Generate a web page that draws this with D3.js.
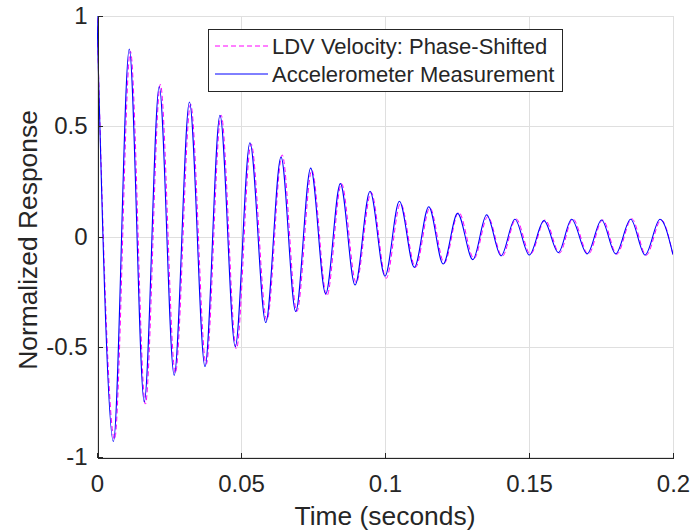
<!DOCTYPE html>
<html>
<head>
<meta charset="utf-8">
<script src="https://cdn.jsdelivr.net/npm/d3@7"></script>
<style>
  body { margin: 0; background: #fff; }
  text { font-family: "Liberation Sans", Arial, Helvetica, sans-serif; fill: #262626; }
</style>
</head>
<body>
<svg id="chart"></svg>
<script>
// peaks and troughs (time in s, normalized response)
const accelTime = [0, 0.0057, 0.0112, 0.0164, 0.0216, 0.0268, 0.0321, 0.0375, 0.0427, 0.0480,
  0.0531, 0.0586, 0.0639, 0.0690, 0.0742, 0.0794, 0.0845, 0.0896, 0.0948, 0.1000,
  0.1050, 0.1102, 0.1152, 0.1202, 0.1252, 0.1305, 0.1353, 0.1403, 0.1451, 0.1501,
  0.1552, 0.1602, 0.1648, 0.1702, 0.1752, 0.1801, 0.1853, 0.1903, 0.1955, 0.2000];
const accelValue = [1.00, -0.93, 0.85, -0.75, 0.68, -0.63, 0.61, -0.59, 0.55, -0.50,
  0.425, -0.39, 0.36, -0.34, 0.31, -0.26, 0.24, -0.22, 0.205, -0.18,
  0.16, -0.14, 0.135, -0.125, 0.105, -0.105, 0.098, -0.088, 0.078, -0.084,
  0.072, -0.073, 0.078, -0.079, 0.075, -0.079, 0.078, -0.084, 0.078, -0.082];

const ldvTime = [0, 0.0061, 0.0116, 0.0168, 0.0220, 0.0272, 0.0325, 0.0379, 0.0431, 0.0484,
  0.0535, 0.0590, 0.0643, 0.0694, 0.0746, 0.0798, 0.0849, 0.0900, 0.0952, 0.1004,
  0.1054, 0.1106, 0.1156, 0.1206, 0.1256, 0.1309, 0.1357, 0.1407, 0.1455, 0.1505,
  0.1556, 0.1606, 0.1652, 0.1706, 0.1756, 0.1805, 0.1857, 0.1907, 0.1959, 0.2000];
const ldvValue = [0.99, -0.92, 0.84, -0.76, 0.69, -0.62, 0.60, -0.58, 0.55, -0.51,
  0.42, -0.38, 0.37, -0.34, 0.30, -0.27, 0.24, -0.21, 0.20, -0.19,
  0.15, -0.14, 0.13, -0.12, 0.11, -0.10, 0.09, -0.09, 0.08, -0.08,
  0.075, -0.075, 0.08, -0.08, 0.075, -0.08, 0.08, -0.085, 0.075, -0.085];

const xTicks = [0, 0.05, 0.1, 0.15, 0.2];
const xTickLabels = ["0", "0.05", "0.1", "0.15", "0.2"];
const yTicks = [-1, -0.5, 0, 0.5, 1];
const yTickLabels = ["-1", "-0.5", "0", "0.5", "1"];
const seriesNames = ["LDV Velocity: Phase-Shifted", "Accelerometer Measurement"];

const W = 694, H = 531;
const margin = { top: 16, right: 21, bottom: 74, left: 97 };
const width = W - margin.left - margin.right;
const height = H - margin.top - margin.bottom;

const svg = d3.select("#chart").attr("width", W).attr("height", H);
const g = svg.append("g").attr("transform", "translate(" + margin.left + "," + margin.top + ")");

const x = d3.scaleLinear().domain([0, 0.2]).range([0, width]);
const y = d3.scaleLinear().domain([-1, 1]).range([height, 0]);

// grid
g.append("g").selectAll("line").data(xTicks).enter().append("line")
  .attr("x1", d => Math.round(x(d)) + 0.5).attr("x2", d => Math.round(x(d)) + 0.5)
  .attr("y1", 0).attr("y2", height)
  .attr("stroke", "#dfdfdf").attr("stroke-width", 1);
g.append("g").selectAll("line").data(yTicks).enter().append("line")
  .attr("y1", d => Math.round(y(d)) + 0.5).attr("y2", d => Math.round(y(d)) + 0.5)
  .attr("x1", 0).attr("x2", width)
  .attr("stroke", "#dfdfdf").attr("stroke-width", 1);

// lines
svg.append("defs").append("clipPath").attr("id", "clip")
  .append("rect").attr("x", 0).attr("y", -2).attr("width", width).attr("height", height + 4);

const line = d3.line().curve(d3.curveMonotoneX);
const ldvPts = ldvTime.map((t, i) => [x(t), y(ldvValue[i])]);
const accPts = accelTime.map((t, i) => [x(t), y(accelValue[i])]);

const plot = g.append("g").attr("clip-path", "url(#clip)");
plot.append("path").attr("d", line(ldvPts))
  .attr("fill", "none").attr("stroke", "#ff00ff").attr("stroke-width", 1)
  .attr("stroke-dasharray", "5,3");
plot.append("path").attr("d", line(accPts))
  .attr("fill", "none").attr("stroke", "#0000ff").attr("stroke-width", 1.1);

// axes
const xAxis = d3.axisBottom(x).tickValues(xTicks)
  .tickFormat((d, i) => xTickLabels[i]).tickSizeInner(-5).tickSizeOuter(0).tickPadding(17);
const yAxis = d3.axisLeft(y).tickValues(yTicks)
  .tickFormat((d, i) => yTickLabels[i]).tickSizeInner(-5).tickSizeOuter(0).tickPadding(10);

const gx = g.append("g").attr("transform", "translate(0," + (height + 0.5) + ")").call(xAxis);
const gy = g.append("g").attr("transform", "translate(0.5,0)").call(yAxis);
[gx, gy].forEach(a => {
  a.selectAll("path,line").attr("stroke", "#262626").attr("shape-rendering", "crispEdges");
  a.selectAll("text").style("font-size", "24px").attr("fill", "#262626")
    .style("font-family", "'Liberation Sans', Arial, sans-serif");
});

// axis labels
svg.append("text").attr("x", margin.left + width / 2).attr("y", 525)
  .attr("text-anchor", "middle").style("font-size", "26.4px").text("Time (seconds)");
svg.append("text").attr("transform", "translate(36.5,240) rotate(-90)")
  .attr("text-anchor", "middle").style("font-size", "26.4px").text("Normalized Response");

// legend
const leg = svg.append("g");
leg.append("rect").attr("x", 208.5).attr("y", 29.5).attr("width", 354).attr("height", 62)
  .attr("fill", "#fff").attr("stroke", "#262626").attr("stroke-width", 1);
const legStyles = [
  { color: "#ff00ff", dash: "5,3", ly: 46, ty: 53.5 },
  { color: "#0000ff", dash: null, ly: 74, ty: 81.5 }
];
legStyles.forEach((s, i) => {
  leg.append("line").attr("x1", 215).attr("x2", 268).attr("y1", s.ly).attr("y2", s.ly)
    .attr("stroke", s.color).attr("stroke-width", 1)
    .attr("stroke-dasharray", s.dash);
  leg.append("text").attr("x", 272).attr("y", s.ty)
    .style("font-size", "22px").text(seriesNames[i]);
});
</script>
</body>
</html>
